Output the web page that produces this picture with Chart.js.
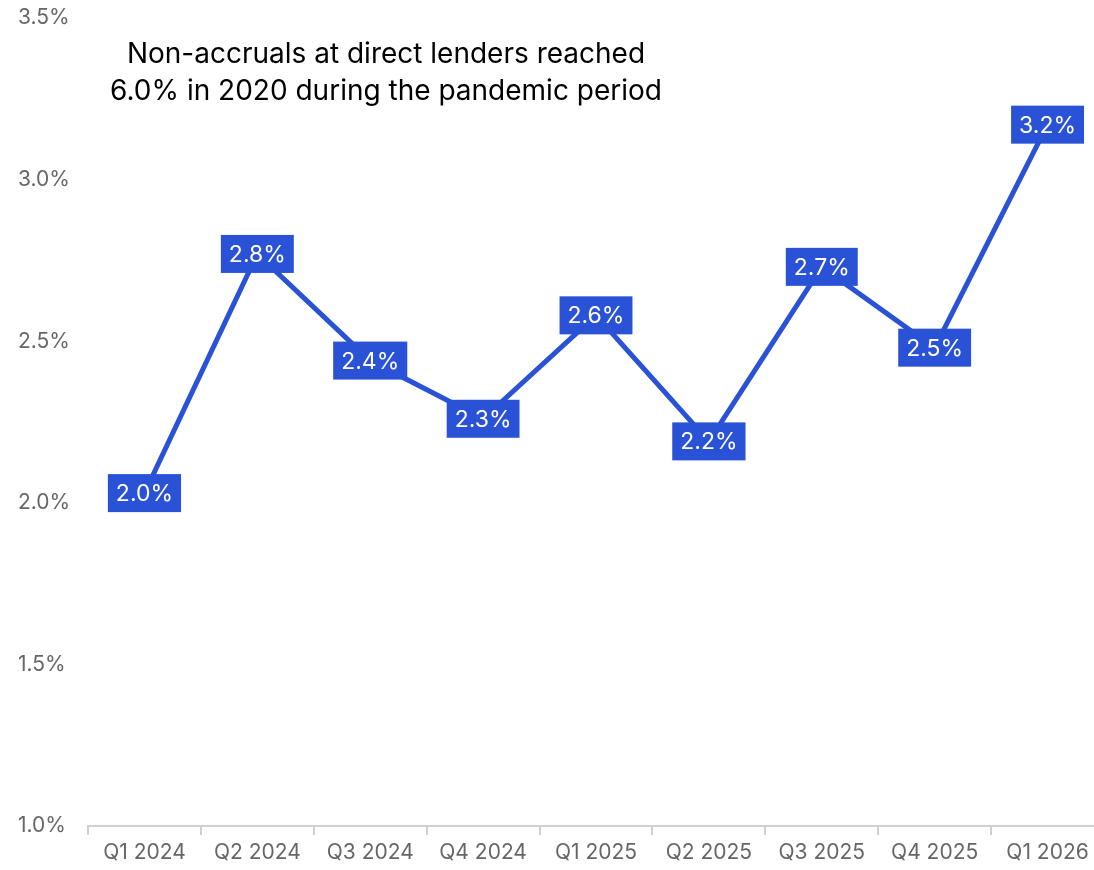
<!DOCTYPE html>
<html>
<head>
<meta charset="utf-8">
<script src="https://cdn.jsdelivr.net/npm/chart.js@4/dist/chart.umd.min.js"></script>
<style>
  html, body { margin: 0; padding: 0; background: #fff; }
  #wrap { width: 1094px; height: 870px; overflow: hidden; position: relative; }
  #box { width: 1104px; height: 870px; position: absolute; left: 0; top: 0; }
</style>
</head>
<body>
<div id="wrap"><div id="box"><canvas id="chart"></canvas></div></div>
<script>
const quarters = ['Q1 2024', 'Q2 2024', 'Q3 2024', 'Q4 2024', 'Q1 2025', 'Q2 2025', 'Q3 2025', 'Q4 2025', 'Q1 2026'];
const nonAccruals = [2.03, 2.77, 2.44, 2.26, 2.58, 2.19, 2.73, 2.48, 3.17];
const yTicks = [1.0, 1.5, 2.0, 2.5, 3.0, 3.5];
const noteLines = ['Non-accruals at direct lenders reached', '6.0% in 2020 during the pandemic period'];

const blue = '#2a52d6';
const fontFamily = 'Inter, "Noto Sans", sans-serif';

// boxed value labels at each point
const boxLabels = {
    id: 'boxLabels',
    afterDatasetsDraw(chart) {
        const ctx = chart.ctx;
        const meta = chart.getDatasetMeta(0);
        ctx.save();
        ctx.font = '23px ' + fontFamily;
        ctx.textAlign = 'center';
        ctx.textBaseline = 'middle';
        meta.data.forEach((pt, i) => {
            const txt = nonAccruals[i].toFixed(1) + '%';
            const w = ctx.measureText(txt).width + 16;
            const h = 38;
            ctx.fillStyle = blue;
            ctx.fillRect(pt.x - w / 2, pt.y - h / 2, w, h);
            ctx.fillStyle = '#fff';
            ctx.fillText(txt, pt.x, pt.y + 1);
        });
        ctx.restore();
    }
};

const note = {
    id: 'note',
    afterDraw(chart) {
        const ctx = chart.ctx;
        ctx.save();
        ctx.font = '28px ' + fontFamily;
        ctx.fillStyle = '#000';
        ctx.textAlign = 'center';
        ctx.textBaseline = 'middle';
        ctx.fillText(noteLines[0], 386, 55);
        ctx.fillText(noteLines[1], 386, 92);
        ctx.restore();
    }
};

new Chart(document.getElementById('chart').getContext('2d'), {
    type: 'line',
    data: {
        labels: quarters,
        datasets: [{
            data: nonAccruals,
            borderColor: blue,
            borderWidth: 5,
            pointRadius: 0,
            tension: 0,
        }],
    },
    options: {
        responsive: true,
        maintainAspectRatio: false,
        animation: false,
        layout: { padding: { top: 18, left: 18, right: 0, bottom: 0 } },
        plugins: { legend: { display: false }, tooltip: { enabled: false } },
        scales: {
            x: {
                offset: true,
                grid: { display: true, drawOnChartArea: false, offset: true, tickLength: 9, color: '#d0d0d0', lineWidth: 2 },
                border: { display: true, color: '#d0d0d0', width: 2 },
                ticks: { color: '#666', font: { family: fontFamily, size: 21 }, padding: 5, maxRotation: 0, autoSkip: false },
                afterFit(scale) { scale.height = 44; },
            },
            y: {
                min: 1.0,
                max: 3.5,
                grid: { display: false },
                border: { display: false },
                afterBuildTicks(scale) { scale.ticks = yTicks.map(v => ({ value: v })); },
                ticks: {
                    color: '#666',
                    font: { family: fontFamily, size: 21 },
                    crossAlign: 'far',
                    padding: 0,
                    callback: v => v.toFixed(1) + '%',
                },
                afterFit(scale) { scale.width = 70; },
            },
        },
    },
    plugins: [boxLabels, note],
});
</script>
</body>
</html>
